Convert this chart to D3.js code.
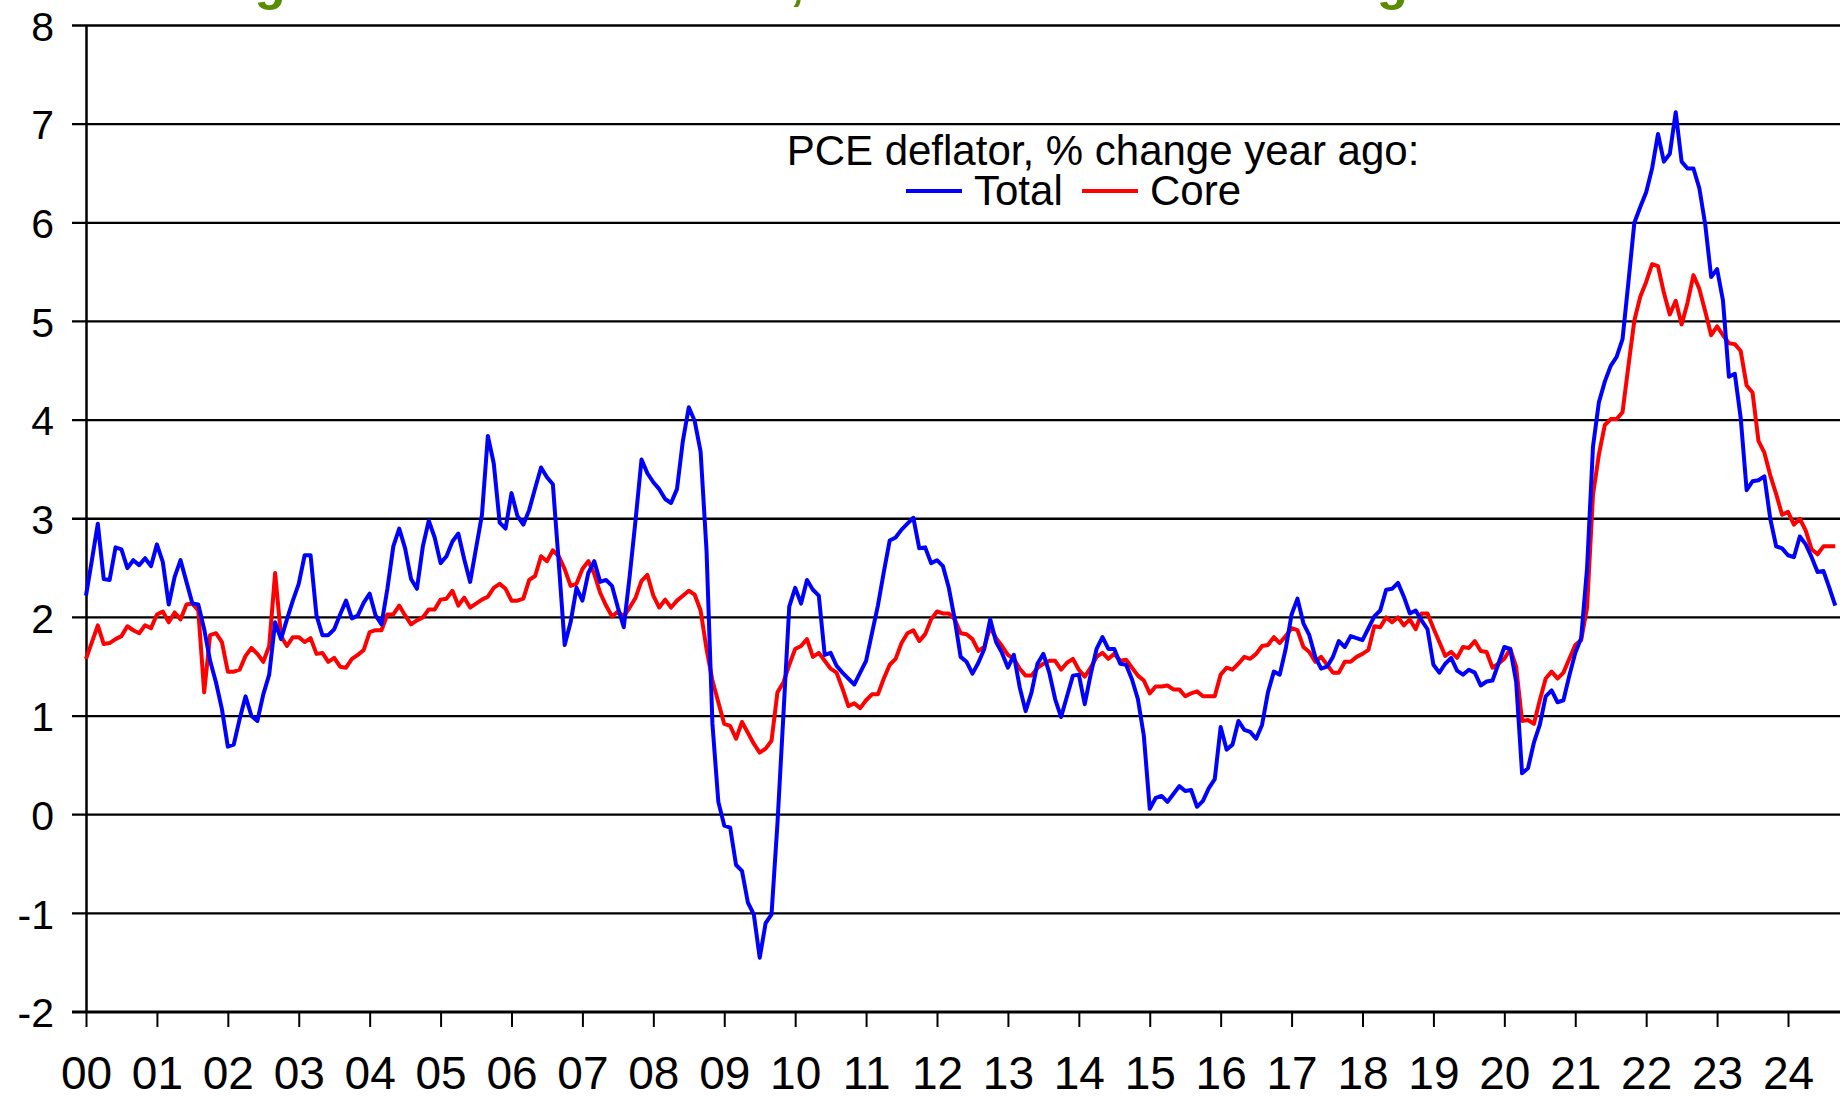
<!DOCTYPE html>
<html lang="en">
<head>
<meta charset="UTF-8">
<title>PCE deflator</title>
<script src="https://d3js.org/d3.v7.min.js"></script>
<style>
  body { margin: 0; background: #fff; }
  svg text { font-family: "Liberation Sans", Arial, sans-serif; fill: #000; }
</style>
</head>
<body>
<script>
// monthly data, Jan 2000 .. Sep 2024
const startYear = 2000;
const yearLabels = ["00","01","02","03","04","05","06","07","08","09","10","11","12",
                    "13","14","15","16","17","18","19","20","21","22","23","24"];
const yTicks = [-2, -1, 0, 1, 2, 3, 4, 5, 6, 7, 8];

const total = [
  2.22, 2.58, 2.95, 2.39, 2.38, 2.71, 2.69, 2.50, 2.58, 2.53, 2.60, 2.52,
  2.74, 2.56, 2.13, 2.41, 2.58, 2.36, 2.14, 2.13, 1.88, 1.56, 1.34, 1.07,
  0.69, 0.71, 0.97, 1.20, 1.00, 0.95, 1.22, 1.42, 1.95, 1.78, 1.98, 2.17,
  2.34, 2.63, 2.63, 2.02, 1.82, 1.82, 1.88, 2.03, 2.17, 1.99, 2.02, 2.15,
  2.24, 2.02, 1.93, 2.29, 2.72, 2.90, 2.70, 2.39, 2.29, 2.72, 2.98, 2.81,
  2.55, 2.62, 2.77, 2.85, 2.59, 2.36, 2.70, 3.04, 3.84, 3.56, 2.96, 2.90,
  3.26, 3.03, 2.94, 3.09, 3.31, 3.52, 3.42, 3.35, 2.55, 1.72, 1.95, 2.30,
  2.17, 2.45, 2.57, 2.36, 2.38, 2.32, 2.10, 1.90, 2.42, 2.99, 3.60, 3.46,
  3.37, 3.30, 3.20, 3.16, 3.30, 3.79, 4.13, 3.99, 3.68, 2.68, 0.92, 0.13,
  -0.11, -0.13, -0.51, -0.57, -0.89, -1.01, -1.45, -1.10, -1.01, -0.09, 1.00, 2.11,
  2.30, 2.14, 2.38, 2.28, 2.22, 1.62, 1.64, 1.51, 1.44, 1.38, 1.32, 1.44,
  1.56, 1.84, 2.12, 2.46, 2.78, 2.81, 2.89, 2.95, 3.01, 2.70, 2.71, 2.55,
  2.58, 2.52, 2.30, 1.98, 1.60, 1.55, 1.43, 1.54, 1.68, 1.98, 1.75, 1.64,
  1.49, 1.62, 1.29, 1.05, 1.24, 1.53, 1.63, 1.44, 1.17, 0.99, 1.20, 1.41,
  1.42, 1.12, 1.42, 1.68, 1.80, 1.68, 1.68, 1.53, 1.52, 1.37, 1.17, 0.80,
  0.06, 0.17, 0.19, 0.13, 0.21, 0.29, 0.24, 0.25, 0.08, 0.14, 0.27, 0.36,
  0.89, 0.66, 0.71, 0.95, 0.86, 0.84, 0.77, 0.91, 1.24, 1.45, 1.42, 1.68,
  2.03, 2.19, 1.94, 1.82, 1.60, 1.48, 1.50, 1.60, 1.76, 1.70, 1.81, 1.79,
  1.77, 1.89, 2.01, 2.07, 2.28, 2.29, 2.35, 2.21, 2.04, 2.07, 1.97, 1.88,
  1.52, 1.44, 1.53, 1.59, 1.46, 1.42, 1.47, 1.44, 1.31, 1.35, 1.36, 1.53,
  1.70, 1.68, 1.35, 0.42, 0.47, 0.73, 0.91, 1.20, 1.26, 1.14, 1.16, 1.41,
  1.64, 1.79, 2.50, 3.73, 4.18, 4.39, 4.55, 4.64, 4.82, 5.40, 6.00, 6.16,
  6.31, 6.55, 6.90, 6.62, 6.70, 7.12, 6.62, 6.55, 6.55, 6.35, 5.98, 5.45,
  5.53, 5.21, 4.44, 4.47, 4.02, 3.29, 3.38, 3.39, 3.43, 3.00, 2.72, 2.70,
  2.63, 2.61, 2.82, 2.74, 2.61, 2.46, 2.47, 2.30, 2.12
];

const core = [
  1.58, 1.75, 1.92, 1.73, 1.74, 1.78, 1.81, 1.91, 1.87, 1.84, 1.92, 1.89,
  2.03, 2.06, 1.95, 2.05, 1.98, 2.13, 2.14, 2.07, 1.24, 1.82, 1.84, 1.75,
  1.45, 1.45, 1.47, 1.61, 1.69, 1.63, 1.55, 1.71, 2.45, 1.81, 1.71, 1.80,
  1.80, 1.75, 1.79, 1.63, 1.64, 1.55, 1.59, 1.50, 1.49, 1.58, 1.62, 1.67,
  1.85, 1.87, 1.87, 2.03, 2.03, 2.12, 2.02, 1.93, 1.97, 2.00, 2.08, 2.08,
  2.18, 2.19, 2.27, 2.12, 2.20, 2.10, 2.14, 2.18, 2.21, 2.30, 2.34, 2.29,
  2.17, 2.17, 2.19, 2.38, 2.42, 2.62, 2.57, 2.68, 2.62, 2.49, 2.32, 2.34,
  2.49, 2.57, 2.44, 2.25, 2.12, 2.01, 2.06, 2.01, 2.10, 2.20, 2.37, 2.43,
  2.22, 2.10, 2.18, 2.10, 2.17, 2.22, 2.27, 2.23, 2.07, 1.68, 1.36, 1.14,
  0.92, 0.90, 0.77, 0.94, 0.83, 0.72, 0.63, 0.67, 0.75, 1.24, 1.34, 1.52,
  1.68, 1.71, 1.78, 1.60, 1.64, 1.56, 1.48, 1.44, 1.28, 1.10, 1.13, 1.08,
  1.16, 1.22, 1.22, 1.38, 1.52, 1.58, 1.74, 1.84, 1.87, 1.76, 1.83, 1.98,
  2.06, 2.04, 2.04, 1.98, 1.84, 1.83, 1.78, 1.66, 1.70, 1.90, 1.79, 1.71,
  1.62, 1.58, 1.48, 1.41, 1.41, 1.49, 1.53, 1.56, 1.56, 1.47, 1.54, 1.58,
  1.47, 1.40, 1.49, 1.60, 1.64, 1.58, 1.63, 1.56, 1.57, 1.49, 1.41, 1.36,
  1.23, 1.30, 1.30, 1.31, 1.27, 1.27, 1.20, 1.23, 1.25, 1.20, 1.20, 1.20,
  1.42, 1.49, 1.47, 1.53, 1.60, 1.58, 1.63, 1.71, 1.72, 1.80, 1.74, 1.81,
  1.89, 1.87, 1.70, 1.65, 1.55, 1.60, 1.52, 1.44, 1.44, 1.55, 1.55, 1.60,
  1.63, 1.67, 1.91, 1.90, 2.00, 1.95, 2.00, 1.92, 1.98, 1.88, 2.04, 2.04,
  1.89, 1.75, 1.61, 1.65, 1.59, 1.70, 1.69, 1.76, 1.66, 1.65, 1.49, 1.53,
  1.58, 1.68, 1.50, 0.95, 0.96, 0.92, 1.16, 1.38, 1.45, 1.38, 1.44, 1.58,
  1.72, 1.77, 2.10, 3.24, 3.65, 3.95, 4.01, 4.01, 4.08, 4.55, 5.01, 5.25,
  5.40, 5.58, 5.56, 5.29, 5.07, 5.21, 4.97, 5.19, 5.47, 5.33, 5.10, 4.86,
  4.95, 4.86, 4.78, 4.77, 4.70, 4.35, 4.28, 3.79, 3.67, 3.44, 3.25, 3.04,
  3.07, 2.94, 3.00, 2.88, 2.69, 2.64, 2.72, 2.72, 2.72
];

// title sits above the top edge; only its descenders show
const titleText = "Although inflation has eased, core remains above target";
const legendTitle = "PCE deflator, % change year ago:";
const seriesNames = ["Total", "Core"];
const seriesColors = ["#0000ff", "#ff0000"];

const width = 1840, height = 1096;
const svg = d3.select("body").append("svg")
  .attr("width", width)
  .attr("height", height);

const x = d3.scaleLinear().domain([2000, 2024]).range([86, 1788]);
const y = d3.scaleLinear().domain([-2, 8]).range([1012, 25.5]);

svg.append("text")
  .attr("x", 93).attr("y", -1)
  .style("font-size", "51px").style("font-weight", "bold")
  .style("fill", "#5a8c00")
  .text(titleText);

// horizontal gridlines
svg.append("g").selectAll("line")
  .data(yTicks)
  .join("line")
  .attr("x1", 72).attr("x2", width)
  .attr("y1", d => y(d)).attr("y2", d => y(d))
  .attr("stroke", "#000")
  .attr("stroke-width", d => d === -2 ? 3 : 2.3);

// y axis
const yAxis = svg.append("g")
  .attr("transform", "translate(86,0)")
  .call(d3.axisLeft(y).tickValues(yTicks).tickSize(0).tickPadding(32).tickFormat(d => String(d)));
yAxis.select(".domain").attr("stroke", "#000").attr("stroke-width", 2.5);
yAxis.selectAll("text").style("font-size", "41px").attr("dy", "0.36em");

// x axis
const xAxis = svg.append("g")
  .attr("transform", `translate(0,${y(-2)})`)
  .call(d3.axisBottom(x)
    .tickValues(d3.range(startYear, startYear + yearLabels.length))
    .tickSize(15).tickSizeOuter(0)
    .tickFormat((d, i) => yearLabels[i]));
xAxis.select(".domain").remove();
xAxis.selectAll(".tick line").attr("stroke", "#000").attr("stroke-width", 2);
xAxis.selectAll("text")
  .attr("y", 60).attr("dy", "0.36em")
  .style("font-size", "46px")
  .style("font-family", "'Liberation Sans Narrow', 'Arial Narrow', sans-serif");

// series lines
const line = d3.line()
  .x((d, i) => x(startYear + i / 12))
  .y(d => y(d));

svg.append("path")
  .datum(core)
  .attr("fill", "none")
  .attr("stroke", seriesColors[1])
  .attr("stroke-width", 4)
  .attr("stroke-linejoin", "round")
  .attr("d", line);

svg.append("path")
  .datum(total)
  .attr("fill", "none")
  .attr("stroke", seriesColors[0])
  .attr("stroke-width", 4)
  .attr("stroke-linejoin", "round")
  .attr("d", line);

// legend
const lg = svg.append("g");
lg.append("text")
  .attr("x", 1103).attr("y", 165)
  .attr("text-anchor", "middle")
  .style("font-size", "42px")
  .text(legendTitle);

const items = [
  { name: seriesNames[0], color: seriesColors[0], x0: 906 },
  { name: seriesNames[1], color: seriesColors[1], x0: 1082 }
];
items.forEach(it => {
  lg.append("line")
    .attr("x1", it.x0).attr("x2", it.x0 + 56)
    .attr("y1", 191).attr("y2", 191)
    .attr("stroke", it.color).attr("stroke-width", 4);
  lg.append("text")
    .attr("x", it.x0 + 68).attr("y", 205)
    .style("font-size", "42px")
    .text(it.name);
});
</script>
</body>
</html>
